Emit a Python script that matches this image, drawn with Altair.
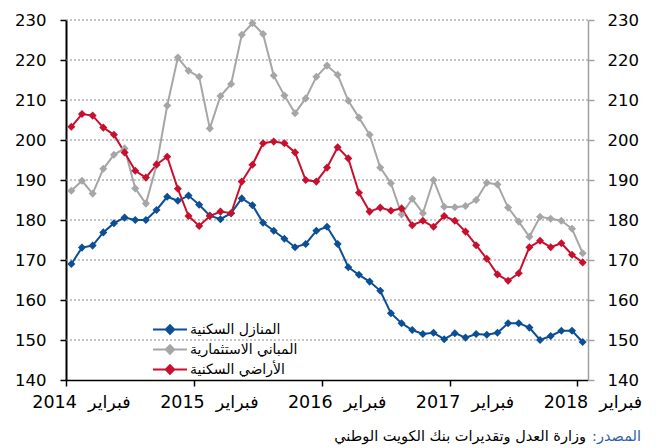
import altair as alt
import pandas as pd

# ---- data (monthly, Feb 2014 .. Feb 2018) ----
series_names = ["المنازل السكنية", "المباني الاستثمارية", "الأراضي السكنية"]
series_colors = ["#0B4F96", "#A6A6A6", "#C8102E"]

homes = [169.0, 173.1, 173.6, 176.9, 179.2, 180.6, 180.0, 180.0, 182.5, 185.8,
         184.8, 186.1, 183.8, 181.1, 180.2, 181.7, 185.4, 183.7, 179.3, 177.3,
         175.3, 173.2, 174.0, 177.3, 178.3, 174.0, 168.2, 166.3, 164.6, 162.3,
         156.7, 154.2, 152.5, 151.5, 151.8, 150.2, 151.7, 150.6, 151.5, 151.3,
         151.8, 154.2, 154.2, 153.1, 150.0, 151.0, 152.3, 152.3, 149.5]

investment = [187.3, 189.8, 186.6, 192.8, 196.3, 197.9, 187.9, 184.1, 193.7, 208.6,
              220.6, 217.3, 215.8, 202.9, 211.0, 214.0, 226.3, 229.2, 226.5, 216.1,
              211.1, 206.7, 210.4, 215.8, 218.6, 216.3, 209.8, 205.6, 201.3, 193.1,
              189.2, 181.4, 185.3, 181.7, 190.0, 183.3, 183.2, 183.5, 185.0, 189.3,
              188.9, 183.1, 179.6, 175.8, 180.8, 180.3, 179.8, 177.8, 171.7]

land = [203.3, 206.5, 206.1, 203.1, 201.3, 196.9, 192.3, 190.6, 193.9, 195.8,
        187.8, 181.0, 178.5, 181.0, 182.1, 181.7, 189.6, 193.8, 199.2, 199.6,
        199.2, 196.9, 190.0, 189.6, 193.1, 198.2, 195.4, 186.8, 182.1, 183.1,
        182.3, 182.9, 178.7, 179.8, 178.3, 181.0, 179.8, 177.1, 173.7, 170.3,
        166.4, 164.8, 166.7, 173.2, 174.8, 173.2, 174.2, 171.3, 169.4]

x_tick_labels = ["2014\u00a0\u00a0فبراير", "2015\u00a0\u00a0فبراير", "2016\u00a0\u00a0فبراير",
                 "2017\u00a0\u00a0فبراير", "2018\u00a0\u00a0فبراير"]
y_ticks = [140, 150, 160, 170, 180, 190, 200, 210, 220, 230]
grid_values = [150, 160, 170, 180, 190, 200, 210, 220, 230]

source_label = ":المصدر"
source_text = "وزارة العدل وتقديرات بنك الكويت الوطني"

rows = []
for name, vals in zip(series_names, [homes, investment, land]):
    for i, v in enumerate(vals):
        rows.append({"m": i, "value": v, "series": name})
df = pd.DataFrame(rows)

W, H = 522, 360
FONT = "DejaVu Sans"
X_MIN, X_MAX = -0.5, len(homes) - 0.5

xscale = alt.Scale(domain=[X_MIN, X_MAX], nice=False, zero=False)
yscale = alt.Scale(domain=[140, 230], nice=False, zero=False)
cscale = alt.Scale(domain=series_names, range=series_colors)

label_list = "[" + ",".join("'" + s + "'" for s in x_tick_labels) + "]"


def x_axis():
    return alt.Axis(values=[-0.5 + 12 * k for k in range(len(x_tick_labels))],
                    labelExpr=label_list + "[round((datum.value + 0.5) / 12)]",
                    title=None, grid=False, domainColor="#000000", domainWidth=1.5,
                    tickColor="#000000", tickSize=6, tickWidth=1.5, labelOffset=15,
                    labelPadding=7, labelFontSize=17.5, labelFont=FONT,
                    labelColor="#000000", labelFlush=False, labelOverlap=False,
                    labelBound=False, orient="bottom")


left_axis = alt.Axis(values=y_ticks, title=None, grid=False, domainColor="#000000",
                     domainWidth=2, tickColor="#000000", tickSize=6, tickWidth=1.5,
                     labelPadding=14, labelFontSize=16.5, labelFont=FONT,
                     labelColor="#000000", orient="left")
right_axis = alt.Axis(values=y_ticks, title=None, grid=False, domainColor="#A0A0A0",
                      domainWidth=1.5, tickColor="#A0A0A0", tickSize=6, tickWidth=1.5,
                      labelPadding=13, labelFontSize=16.5, labelFont=FONT,
                      labelColor="#000000", orient="right")

grid = alt.Chart(pd.DataFrame({"g": grid_values})).mark_rule(
    color="#8A8A8A", strokeWidth=1, strokeDash=[2, 2]
).encode(
    y=alt.Y("g:Q", scale=yscale, axis=None),
    x=alt.value(0),
    x2=alt.value(W),
)

legend = alt.Legend(title=None, orient="none", legendX=86, legendY=300,
                    symbolType="M-1,0H3M1,-0.5L1.5,0L1,0.5L0.5,0ZM1,-0.25L1.25,0L1,0.25L0.75,0Z",
                    symbolSize=289, symbolStrokeWidth=2, labelFont=FONT,
                    labelFontSize=14, labelColor="#000000", labelOffset=19,
                    rowPadding=2, padding=0, labelLimit=300)

base = alt.Chart(df)

lines = base.mark_line(strokeWidth=2).encode(
    x=alt.X("m:Q", scale=xscale, axis=x_axis()),
    y=alt.Y("value:Q", scale=yscale, axis=left_axis),
    color=alt.Color("series:N", scale=cscale, legend=legend),
    detail="series:N",
)

points = base.mark_point(shape="diamond", filled=True, size=65, opacity=1).encode(
    x=alt.X("m:Q", scale=xscale, axis=x_axis()),
    y=alt.Y("value:Q", scale=yscale, axis=right_axis),
    color=alt.Color("series:N", scale=cscale, legend=None),
)

src_df = pd.DataFrame({"t": [source_label]})
src_df2 = pd.DataFrame({"t": [source_text]})
src1 = alt.Chart(src_df).mark_text(align="right", baseline="middle", fontSize=14.5,
                                   font=FONT, color="#2E5FA8").encode(
    text="t:N", x=alt.value(W + 53), y=alt.value(H + 57))
src2 = alt.Chart(src_df2).mark_text(align="right", baseline="middle", fontSize=14.5,
                                    font=FONT, color="#000000").encode(
    text="t:N", x=alt.value(W - 2), y=alt.value(H + 57))

chart = alt.layer(grid, lines, points, src1, src2).resolve_axis(y="independent").properties(
    width=W, height=H, padding={"left": 6, "top": 4, "right": 5, "bottom": 5}
).configure_view(stroke=None)

chart.save("out.html", embed_options={"renderer": "svg", "actions": False})
